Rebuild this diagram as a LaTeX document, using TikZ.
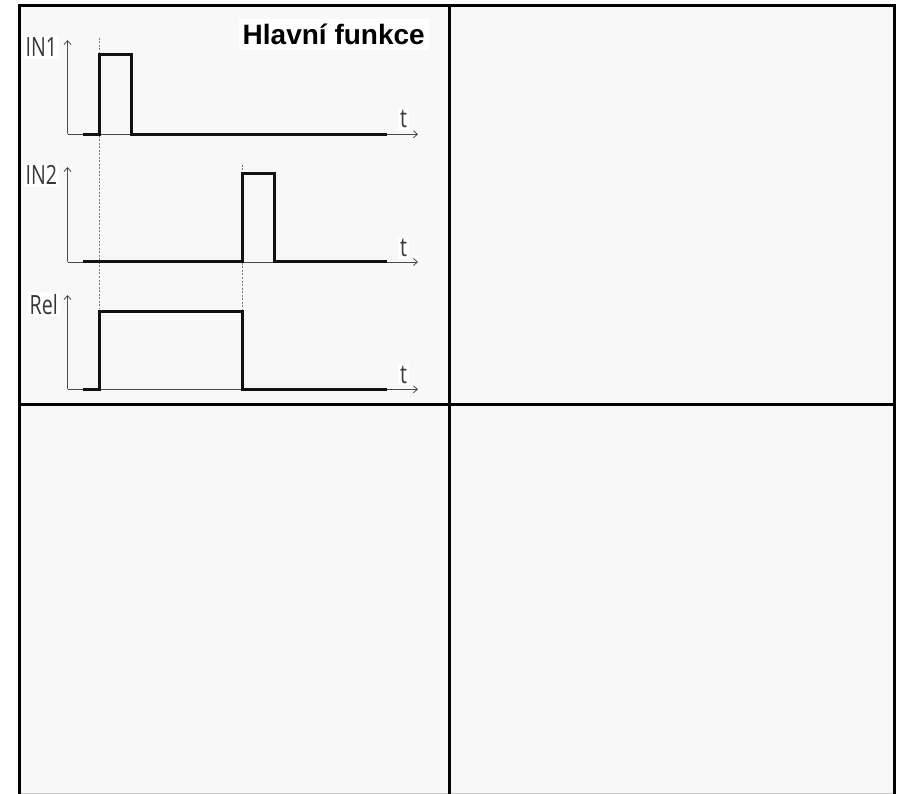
\documentclass[tikz,border=0pt]{standalone}
\usepackage{fontspec}
\setmainfont{Liberation Sans}
\newfontfamily\lblfont[FakeStretch=0.74]{Open Sans}
\usetikzlibrary{arrows.meta}
\definecolor{panelbg}{HTML}{F8F8F8}
\definecolor{axisgray}{HTML}{4A4A4A}
\definecolor{lblgray}{HTML}{383838}
\definecolor{dashgray}{HTML}{7A7A7A}
\definecolor{sigcol}{HTML}{111111}
\definecolor{edgegray}{HTML}{C4C4C4}
\tikzset{
  frameline/.style={line width=3pt, black},
  axisline/.style={line width=0.8pt, axisgray, -{Straight Barb[length=4pt,width=7pt]}},
  sigline/.style={line width=3pt, sigcol, line join=miter},
  guide/.style={line width=0.6pt, dashgray, dash pattern=on 2pt off 1.5pt},
  axlbl/.style={font=\lblfont\fontsize{26.5}{29}\selectfont, text=lblgray, fill=white, inner xsep=2pt, inner ysep=2pt},
  titlelbl/.style={font=\bfseries\fontsize{28}{31}\selectfont, text=black, fill=white, inner xsep=4pt, inner ysep=5pt}
}
\begin{document}
\begin{tikzpicture}[x=1pt,y=-1pt]
\useasboundingbox (0,0) rectangle (899,794);
\fill[white] (0,0) rectangle (899,794);
\fill[panelbg] (19.5,6) rectangle (894,794);
\draw[edgegray, line width=1pt] (19.5,793.5) -- (894,793.5);
% guide lines
\coordinate (g1t) at (99,38);
\coordinate (g1b) at (99,309);
\coordinate (g2t) at (242,165);
\coordinate (g2b) at (242,309);
\draw[guide] (g1t) -- (g1b);
\draw[guide] (g2t) -- (g2b);
% axes
\coordinate (o1) at (67.5,134.3);
\coordinate (y1) at (67.5,40);
\coordinate (x1) at (418,134.3);
\coordinate (o2) at (67.5,262);
\coordinate (y2) at (67.5,167);
\coordinate (x2) at (418,262);
\coordinate (o3) at (67.5,389.3);
\coordinate (y3) at (67.5,295);
\coordinate (x3) at (418,389.3);
\draw[axisline] (o1) -- (y1);
\draw[axisline] (o1) -- (x1);
\draw[axisline] (o2) -- (y2);
\draw[axisline] (o2) -- (x2);
\draw[axisline] (o3) -- (y3);
\draw[axisline] (o3) -- (x3);
% signals
\draw[sigline] (83,134.3) -- (99,134.3) -- (99,54.3) -- (131,54.3) -- (131,134.3) -- (387,134.3);
\draw[sigline] (83,262) -- (242,262) -- (242,174) -- (274,174) -- (274,262) -- (387,262);
\draw[sigline] (83,389.3) -- (99,389.3) -- (99,311) -- (242,311) -- (242,389.3) -- (387,389.3);
% labels
\node[axlbl, anchor=base west] (lin1) at (23.5,57) {IN1};
\node[axlbl, anchor=base west] (lin2) at (23.5,185) {IN2};
\node[axlbl, anchor=base west] (lrel) at (27.5,314) {Rel};
\node[axlbl, anchor=base west] (t1) at (398,128) {t};
\node[axlbl, anchor=base west] (t2) at (398,257) {t};
\node[axlbl, anchor=base west] (t3) at (398,383) {t};
\node[titlelbl, anchor=base east] (title) at (429,45) {Hlavní funkce};
% frame
\draw[frameline] (19.5,794) -- (19.5,6) -- (894,6) -- (894,794);
\draw[frameline] (449,6) -- (449,794);
\draw[frameline] (19.5,404) -- (894,404);
\end{tikzpicture}
\end{document}
